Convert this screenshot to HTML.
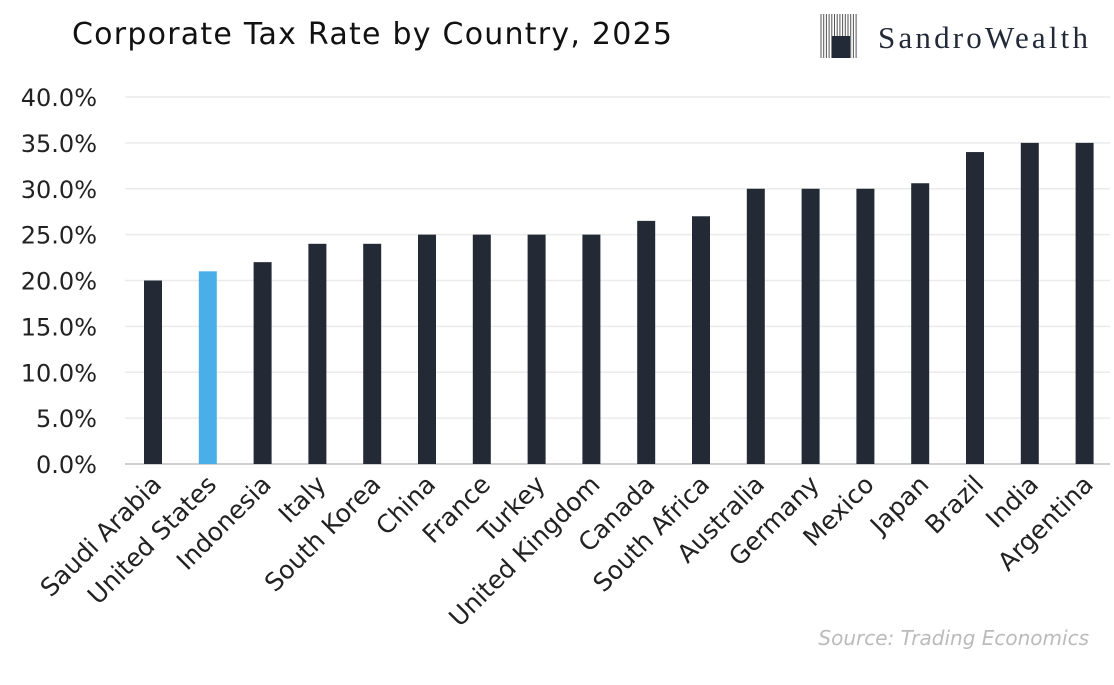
<!DOCTYPE html>
<html><head><meta charset="utf-8"><style>
body{margin:0;background:#fff;width:1114px;height:680px;overflow:hidden}
text{font-family:"DejaVu Sans","Liberation Sans",sans-serif}
</style></head><body>
<svg id="chart" width="1114" height="680" xmlns="http://www.w3.org/2000/svg">
<text x="72" y="44" font-size="30" textLength="600" fill="#111">Corporate Tax Rate by Country, 2025</text>
<g>
<g stroke="#555" stroke-width="1" id="rays"></g>
<rect x="832" y="36" width="18" height="22" fill="#222a38"/>
<text x="878" y="48" font-size="31" textLength="210" fill="#222a38" style="font-family:'Liberation Serif',serif">SandroWealth</text>
</g>
<g id="grid"></g>
<g id="bars"></g>
<g id="labels"></g>
<text x="1089" y="645" font-size="20" font-style="italic" text-anchor="end" fill="#bbb">Source: Trading Economics</text>
</svg>
<script>
const categories=["Saudi Arabia","United States","Indonesia","Italy","South Korea","China","France","Turkey","United Kingdom","Canada","South Africa","Australia","Germany","Mexico","Japan","Brazil","India","Argentina"];
const values=[20,21,22,24,24,25,25,25,25,26.5,27,30,30,30,30.6,34,35,35];
const ticks=[0,5,10,15,20,25,30,35,40];
const tickLabels=["0.0%","5.0%","10.0%","15.0%","20.0%","25.0%","30.0%","35.0%","40.0%"];
const NS="http://www.w3.org/2000/svg";
const y=v=>464-v*9.175;
const x=i=>153+i*54.8;
function mk(t,a,p){const e=document.createElementNS(NS,t);for(const k in a)e.setAttribute(k,a[k]);p.appendChild(e);return e;}
const g=document.getElementById('grid');
ticks.forEach((t,i)=>{
 if(t>0){const l=mk('line',{x1:125,x2:1110,y1:y(t),y2:y(t),stroke:'#ebebeb','stroke-width':1.5},g);
 
 }
 const tx=mk('text',{x:97,y:y(t)+9,'font-size':24,'text-anchor':'end',fill:'#222'},g);
 tx.textContent=tickLabels[i];
 
 
});
const ax=mk('line',{x1:125,x2:1110,y1:464,y2:464,stroke:'#d0d0d0','stroke-width':2},g);


const b=document.getElementById('bars'),lb=document.getElementById('labels');
values.forEach((v,i)=>{
 const r=mk('rect',{x:x(i)-9,y:y(v),width:18,height:464-y(v),fill:categories[i]==="United States"?'#4aaee8':'#232a36'},b);
 
 
 const t=mk('text',{x:0,y:0,'font-size':25,'text-anchor':'end',fill:'#222',transform:`translate(${x(i)+10},${486}) rotate(-45)`},lb);
 t.textContent=categories[i];
 
 
});
const rays=document.getElementById('rays');
for(let k=0;k<14;k++){const xx=821+k*2.7;
 mk('line',{x1:xx,y1:14,x2:xx,y2:58},rays);}
</script>
</body></html>
